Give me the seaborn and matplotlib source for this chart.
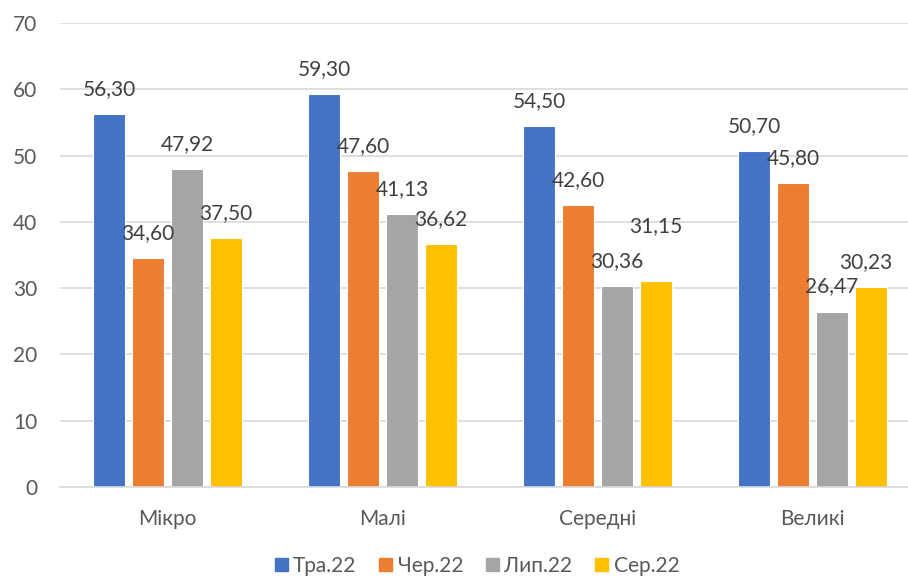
import matplotlib
matplotlib.use('Agg')
import matplotlib.pyplot as plt
import seaborn as sns
import pandas as pd

# дані
categories = ['Мікро', 'Малі', 'Середні', 'Великі']
months = ['Тра.22', 'Чер.22', 'Лип.22', 'Сер.22']
tra = [56.30, 59.30, 54.50, 50.70]
cher = [34.60, 47.60, 42.60, 45.80]
lyp = [47.92, 41.13, 30.36, 26.47]
ser = [37.50, 36.62, 31.15, 30.23]

colors = ['#4472C4', '#ED7D31', '#A5A5A5', '#FFC000']

df = pd.DataFrame({'cat': categories * 4,
                   'month': [m for m in months for _ in categories],
                   'value': tra + cher + lyp + ser})

sns.set_style('white')
plt.rcParams['font.family'] = ['Lato', 'DejaVu Sans']

fig = plt.figure(figsize=(9.08, 5.8), dpi=100)
ax = fig.add_axes([60 / 908, (580 - 487) / 580, 860 / 908, 464 / 580])

sns.barplot(data=df, x='cat', y='value', hue='month', palette=colors, saturation=1,
            width=0.726, gap=0.2, ax=ax, edgecolor='white', linewidth=0.8, legend=False)

ax.set_xlim(-0.5, 3.5)
ax.set_ylim(0, 70)
ax.set_yticks(range(0, 71, 10))
ax.yaxis.grid(True, color='#D9D9D9', linewidth=1.2)
ax.set_axisbelow(True)
for s in ['top', 'right', 'left']:
    ax.spines[s].set_visible(False)
ax.spines['bottom'].set_color('#D9D9D9')
ax.spines['bottom'].set_linewidth(1.2)
ax.tick_params(axis='both', length=0, labelsize=15, colors='#595959')
ax.tick_params(axis='y', pad=16.5)
ax.tick_params(axis='x', pad=16)
ax.set_xlabel('')
ax.set_ylabel('')

# підписи значень (два з них в Excel пересунуті вручну)
for j, cont in enumerate(ax.containers):
    for i, bar in enumerate(cont):
        h = bar.get_height()
        txt = f'{h:.2f}'.replace('.', ',')
        dx, dy = 0, 25
        if (j, i) == (3, 2):
            dy = 54
        if (j, i) == (3, 3):
            dx = -5
        ax.annotate(txt, (bar.get_x() + bar.get_width() / 2, h),
                    xytext=(dx, dy), textcoords='offset pixels',
                    ha='center', va='center', fontsize=15, color='#404040')

handles = [plt.Rectangle((0, 0), 1, 1, color=c) for c in colors]
leg = fig.legend(handles, months, loc='center', bbox_to_anchor=(477 / 908, 1 - 566 / 580),
                 ncol=4, frameon=False, fontsize=15, handlelength=0.63, handleheight=0.63,
                 handletextpad=0.25, columnspacing=1.1)
for t in leg.get_texts():
    t.set_color('#595959')

fig.savefig('out.png', dpi=100)
